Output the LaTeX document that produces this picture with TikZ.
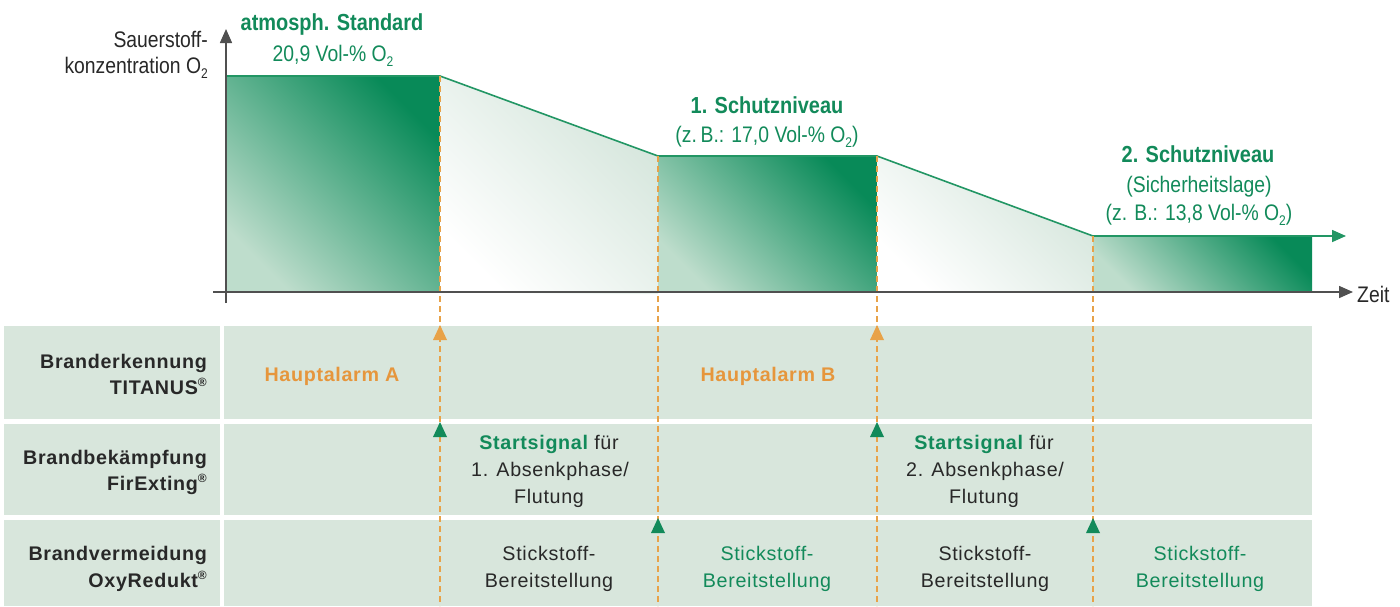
\documentclass[tikz,border=0pt]{standalone}
\usepackage{fontspec}
\setmainfont{Liberation Sans}
\newfontfamily\tabf[LetterSpace=3.5]{Liberation Sans}
\newfontfamily\chf[FakeStretch=0.86]{Liberation Sans}
\usetikzlibrary{arrows.meta}
\definecolor{grn}{RGB}{18,138,90}
\definecolor{lineg}{RGB}{34,150,100}
\definecolor{blkD}{RGB}{8,138,88}
\definecolor{blkL}{RGB}{190,221,204}
\definecolor{slopeU}{RGB}{212,229,219}
\definecolor{tbl}{RGB}{216,230,220}
\definecolor{orng}{RGB}{232,162,72}
\definecolor{orngT}{RGB}{230,150,60}
\definecolor{axg}{RGB}{80,80,80}
\definecolor{txt}{RGB}{40,40,40}
\newcommand\lowtwo[1]{\raisebox{-0.5ex}{\fontsize{14}{14}\selectfont #1}}
\newcommand\regm{\raisebox{0.7ex}{\fontsize{12}{12}\selectfont ®}}
\tikzset{
  chreg/.style={font=\chf\fontsize{22.5}{26}\selectfont, text=grn, inner sep=0pt, anchor=base},
  chbold/.style={font=\chf\bfseries\fontsize{23.2}{26}\selectfont, text=grn, inner sep=0pt, anchor=base},
  axlab/.style={font=\chf\fontsize{22.5}{26}\selectfont, text=txt, inner sep=0pt},
  rowlab/.style={font=\tabf\bfseries\fontsize{19.7}{24}\selectfont, text=txt, inner sep=0pt, anchor=base east},
  cell/.style={font=\tabf\fontsize{19.7}{24}\selectfont, text=txt, inner sep=0pt, anchor=base},
  cellg/.style={cell, text=grn},
  alarm/.style={font=\tabf\bfseries\fontsize{19.7}{24}\selectfont, text=orngT, inner sep=0pt, anchor=base},
  dashl/.style={draw=orng, line width=1.5pt, dash pattern=on 6pt off 4pt},
  axis/.style={draw=axg, line width=1.6pt, -{Triangle[length=14pt,width=12pt]}},
  band/.style={fill=tbl},
}
\begin{document}
\begin{tikzpicture}[x=1pt,y=-1pt]
\useasboundingbox (0,0) rectangle (1400,606);
% key points
\coordinate (p0) at (226,76);
\coordinate (p1) at (440,76);
\coordinate (p2) at (658,156);
\coordinate (p3) at (877,156);
\coordinate (p4) at (1093,236);
\coordinate (p5) at (1312,236);
\coordinate (p6) at (1346,236);
% fills
\shade[bottom color=blkL, top color=blkD, shading angle=-45] (226,76) rectangle (440,292);
\shade[bottom color=white, top color=slopeU, shading angle=-45] (440,76) -- (658,156) -- (658,294) -- (440,294) -- cycle;
\shade[bottom color=blkL, top color=blkD, shading angle=-45] (658,156) rectangle (877,292);
\shade[bottom color=white, top color=slopeU, shading angle=-45] (877,156) -- (1093,236) -- (1093,292) -- (877,292) -- cycle;
\shade[bottom color=blkL, top color=blkD, shading angle=-45] (1093,236) rectangle (1312,292);
% level line
\draw[lineg, line width=1.6pt, -{Triangle[length=14pt,width=12pt]}] (p0) -- (p1) -- (p2) -- (p3) -- (p4) -- (p5) -- (p6);
% table bands
\fill[band] (4,326) rectangle (220,419);
\fill[band] (224,326) rectangle (1312,419);
\fill[band] (4,424) rectangle (220,515);
\fill[band] (224,424) rectangle (1312,515);
\fill[band] (4,520) rectangle (220,606);
\fill[band] (224,520) rectangle (1312,606);
% dashed lines
\coordinate (d1) at (440,606);
\coordinate (d2) at (658,606);
\coordinate (d3) at (877,606);
\coordinate (d4) at (1093,606);
\draw[dashl] (p1) -- (d1);
\draw[dashl] (p2) -- (d2);
\draw[dashl] (p3) -- (d3);
\draw[dashl] (p4) -- (d4);
% axes
\coordinate (ybot) at (226,303);
\coordinate (ytop) at (226,29);
\coordinate (xl) at (213,292);
\coordinate (xr) at (1353,292);
\draw[axis] (ybot) -- (ytop);
\draw[axis] (xl) -- (xr);
% signal arrowheads
\fill[orng] (440,325) -- (447,340) -- (433,340) -- cycle;
\fill[orng] (877,325) -- (884,340) -- (870,340) -- cycle;
\fill[grn] (440,422) -- (447,437) -- (433,437) -- cycle;
\fill[grn] (877,422) -- (884,437) -- (870,437) -- cycle;
\fill[grn] (658,518) -- (665,533) -- (651,533) -- cycle;
\fill[grn] (1093,518) -- (1100,533) -- (1086,533) -- cycle;
% axis labels
\node[axlab, anchor=base east] (yl1) at (208,47) {Sauerstoff-};
\node[axlab, anchor=base east] (yl2) at (208,73) {konzentration O\lowtwo{2}};
\node[axlab, anchor=base west] (zeit) at (1357,302) {Zeit};
% level labels
\node[chbold] (t1) at (332,30) {atmosph. Standard};
\node[chreg] (t1b) at (333,61) {20,9 Vol-\% O\lowtwo{2}};
\node[chbold] (t2) at (767,113) {1. Schutzniveau};
\node[chreg] (t2b) at (767,142) {(z.\,B.: 17,0 Vol-\% O\lowtwo{2})};
\node[chbold] (t3) at (1198,162) {2. Schutzniveau};
\node[chreg] (t3b) at (1199,192) {(Sicherheitslage)};
\node[chreg] (t3c) at (1199,220) {(z. B.: 13,8 Vol-\% O\lowtwo{2})};
% row labels
\node[rowlab] (r1a) at (207,368) {Branderkennung};
\node[rowlab] (r1b) at (207,394) {TITANUS\regm};
\node[rowlab] (r2a) at (207,464) {Brandbekämpfung};
\node[rowlab] (r2b) at (207,490) {FirExting\regm};
\node[rowlab] (r3a) at (207,560) {Brandvermeidung};
\node[rowlab] (r3b) at (207,587) {OxyRedukt\regm};
% row 1
\node[alarm] (ha) at (332,381) {Hauptalarm A};
\node[alarm] (hb) at (768,381) {Hauptalarm B};
% row 2
\node[cell] (s1a) at (549,449) {{\bfseries\color{grn}Startsignal} für};
\node[cell] (s1b) at (550,476) {1. Absenkphase/};
\node[cell] (s1c) at (549,503) {Flutung};
\node[cell] (s2a) at (984,449) {{\bfseries\color{grn}Startsignal} für};
\node[cell] (s2b) at (985,476) {2. Absenkphase/};
\node[cell] (s2c) at (984,503) {Flutung};
% row 3
\node[cell] (n1a) at (549,560) {Stickstoff-};
\node[cell] (n1b) at (549,587) {Bereitstellung};
\node[cellg] (n2a) at (767,560) {Stickstoff-};
\node[cellg] (n2b) at (767,587) {Bereitstellung};
\node[cell] (n3a) at (985,560) {Stickstoff-};
\node[cell] (n3b) at (985,587) {Bereitstellung};
\node[cellg] (n4a) at (1200,560) {Stickstoff-};
\node[cellg] (n4b) at (1200,587) {Bereitstellung};
\end{tikzpicture}
\end{document}
